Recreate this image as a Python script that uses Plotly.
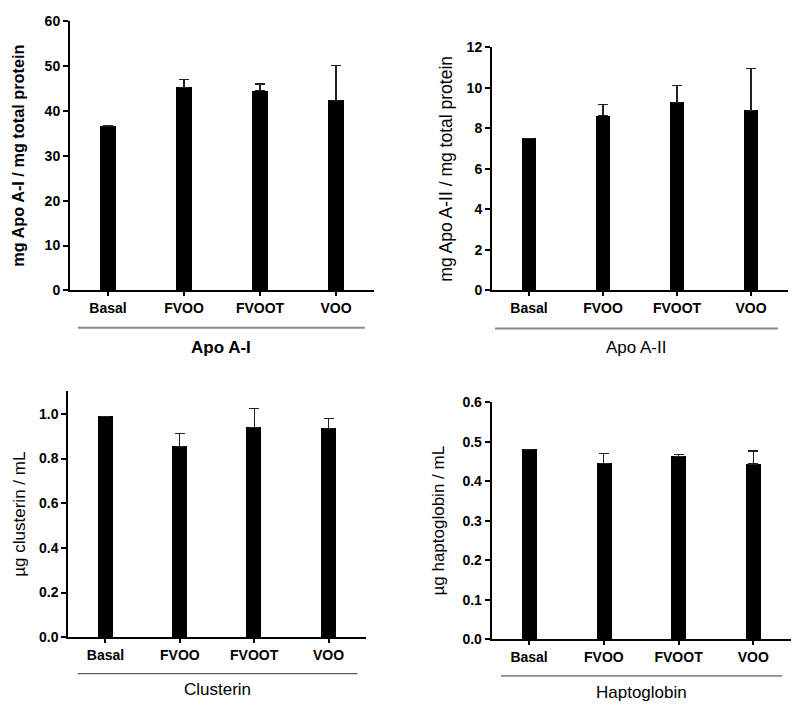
import plotly.graph_objects as go

categories = ["Basal", "FVOO", "FVOOT", "VOO"]

apoa1_mean = [36.6, 45.2, 44.5, 42.3]
apoa1_err = [0.0, 1.8, 1.5, 7.8]

apoa2_mean = [7.5, 8.61, 9.28, 8.87]
apoa2_err = [0.0, 0.56, 0.82, 2.07]

clus_mean = [0.989, 0.853, 0.938, 0.935]
clus_err = [0.0, 0.060, 0.086, 0.045]

hapt_mean = [0.480, 0.445, 0.463, 0.444]
hapt_err = [0.0, 0.025, 0.005, 0.033]

ytitles = ["mg Apo A-I / mg total protein", "mg Apo A-II / mg total protein",
           "µg clusterin / mL", "µg haptoglobin / mL"]
group_labels = ["Apo A-I", "Apo A-II", "Clusterin", "Haptoglobin"]

FONT = "Liberation Sans, Arial, sans-serif"

panels = [
    dict(mean=apoa1_mean, err=apoa1_err, xd=[0.0875, 0.4675], yd=[0.5947, 0.9813],
         yr=[0, 60], dtick=10, fmt="d", title_bold=True, label_bold=True, tsize=16.3,
         tshift=-52, sep=[0.026, 0.97], sep_y=0.5414, lab_y=0.513, sepcol="#8a8a8a", sepw=2),
    dict(mean=apoa2_mean, err=apoa2_err, xd=[0.615, 0.985], yd=[0.5951, 0.9439],
         yr=[0, 12], dtick=2, fmt="d", title_bold=False, label_bold=False, tsize=17.5,
         tshift=-46, sep=[0.01, 0.966], sep_y=0.540, lab_y=0.513, sepcol="#8a8a8a", sepw=2),
    dict(mean=clus_mean, err=clus_err, xd=[0.0854, 0.4571], yd=[0.0972, 0.4498],
         yr=[0, 1.1], dtick=0.2, fmt=".1f", title_bold=False, label_bold=False, tsize=17,
         tshift=-49, sep=[0.032, 0.972], sep_y=0.0449, lab_y=0.0217, sepcol="#333333", sepw=1),
    dict(mean=hapt_mean, err=hapt_err, xd=[0.6146, 0.9884], yd=[0.094, 0.4344],
         yr=[0, 0.6], dtick=0.1, fmt=".1f", title_bold=False, label_bold=False, tsize=17,
         tshift=-53, sep=[0.031, 0.971], sep_y=0.0417, lab_y=0.018, sepcol="#333333", sepw=1),
]

fig = go.Figure()
shapes = []
annotations = []

for i, p in enumerate(panels):
    n = i + 1
    xa = "x" if n == 1 else f"x{n}"
    ya = "y" if n == 1 else f"y{n}"
    err_plus = [e if e > 0 else None for e in p["err"]]
    err_minus = [0 if e > 0 else None for e in p["err"]]
    fig.add_trace(go.Bar(
        x=categories, y=p["mean"], xaxis=xa, yaxis=ya,
        marker=dict(color="black", line=dict(width=0)),
        width=0.2,
        error_y=dict(type="data", symmetric=False, array=err_plus,
                     arrayminus=err_minus,
                     color="#222222", thickness=1.3, width=5),
        showlegend=False,
    ))
    xkey = "xaxis" if n == 1 else f"xaxis{n}"
    ykey = "yaxis" if n == 1 else f"yaxis{n}"
    fig.update_layout(**{
        xkey: dict(domain=p["xd"], anchor=ya, range=[-0.5, 3.5],
                   showline=True, linecolor="black", linewidth=2,
                   ticks="outside", ticklen=4, tickwidth=2, tickcolor="black",
                   tickfont=dict(family=FONT, size=14, color="black", weight="bold"),
                   showgrid=False, zeroline=False, fixedrange=True),
        ykey: dict(domain=p["yd"], anchor=xa, range=p["yr"], dtick=p["dtick"], tick0=0,
                   tickformat=p["fmt"],
                   showline=True, linecolor="black", linewidth=2,
                   ticks="outside", ticklen=5, tickwidth=1.5, tickcolor="black",
                   tickfont=dict(family=FONT, size=14, color="black", weight="bold"),
                   showgrid=False, zeroline=False, fixedrange=True),
    })
    xdom = f"{xa} domain"
    ydom = f"{ya} domain"
    # y-axis title
    annotations.append(dict(
        x=0, y=0.5, xref=xdom, yref=ydom, xshift=p["tshift"],
        text=ytitles[i], textangle=-90, showarrow=False,
        xanchor="center", yanchor="middle",
        font=dict(family=FONT, size=p["tsize"], color="black",
                  weight="bold" if p["title_bold"] else "normal"),
    ))
    # separator line below categories
    shapes.append(dict(type="line", xref=xdom, yref="paper",
                       x0=p["sep"][0], x1=p["sep"][1], y0=p["sep_y"], y1=p["sep_y"],
                       line=dict(color=p["sepcol"], width=p["sepw"])))
    # group label
    annotations.append(dict(
        x=(p["sep"][0] + p["sep"][1]) / 2, y=p["lab_y"], xref=xdom, yref="paper",
        text=group_labels[i], showarrow=False, xanchor="center", yanchor="middle",
        font=dict(family=FONT, size=17, color="black",
                  weight="bold" if p["label_bold"] else "normal"),
    ))

fig.update_layout(
    width=800, height=713,
    margin=dict(l=0, r=0, t=0, b=0),
    paper_bgcolor="white", plot_bgcolor="white",
    shapes=shapes, annotations=annotations,
    font=dict(family=FONT, color="black"),
    bargap=0,
)

fig.write_html(
    "out.html",
    config={"displayModeBar": False},
    post_script="document.body.style.margin='0';document.body.style.overflow='hidden';",
)
